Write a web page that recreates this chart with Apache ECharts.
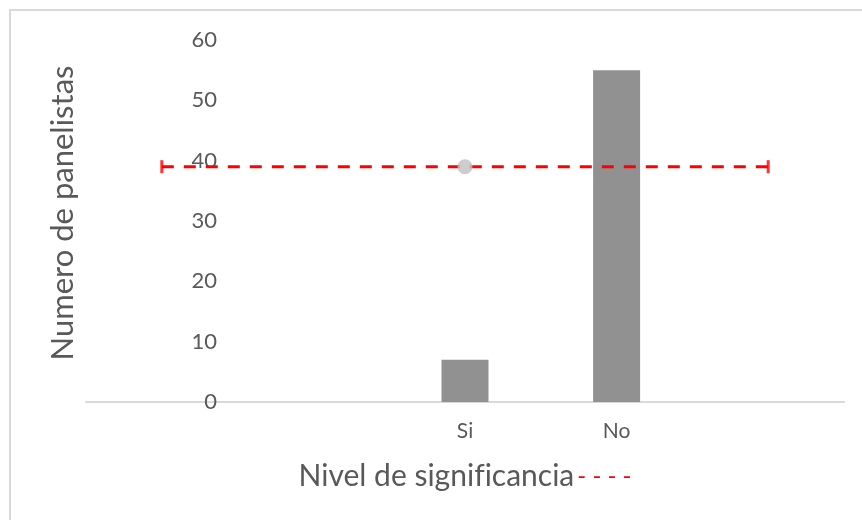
<!DOCTYPE html>
<html>
<head>
<meta charset="utf-8">
<script src="https://cdn.jsdelivr.net/npm/echarts@6/dist/echarts.min.js"></script>
<style>
  html, body { margin: 0; padding: 0; background: #ffffff; }
  #chart { width: 862px; height: 520px; }
</style>
</head>
<body>
<div id="chart"></div>
<script>
// Categorías del eje X (las vacías reservan espacio a ambos lados)
const categorias = ['', '', 'Si', 'No', ''];
// Número de panelistas por respuesta
const panelistas = [null, null, 7, 55, null];
// Nivel de significancia (umbral constante)
const nivelSignificancia = 39;
// Punto de referencia sobre la categoría "Si"
const puntoSi = [null, null, 39, null, null];
// Marcas de ticks del eje Y
const ticksY = [0, 10, 20, 30, 40, 50, 60];

const fuente = 'Lato, "Open Sans", sans-serif';
const grisTexto = '#595959';

const lineaUmbral = categorias.map(() => nivelSignificancia);
const extremos = [[0, nivelSignificancia], [categorias.length - 1, nivelSignificancia]];

const chart = echarts.init(document.getElementById('chart'), null, { renderer: 'canvas' });

chart.setOption({
  backgroundColor: '#ffffff',
  animation: false,
  textStyle: { fontFamily: fuente },
  graphic: [{
    type: 'rect',
    shape: { x: 10, y: 10, width: 900, height: 600 },
    style: { fill: 'none', stroke: '#d9d9d9', lineWidth: 2 },
    silent: true
  }],
  grid: { left: 86, right: 18, top: 40, bottom: 118, containLabel: false },
  xAxis: {
    type: 'category',
    data: categorias,
    axisLine: { show: true, lineStyle: { color: '#d9d9d9', width: 2 } },
    axisTick: { show: false },
    axisLabel: { color: grisTexto, fontSize: 21, fontFamily: fuente, margin: 19 },
    // ZWNJ between f and i avoids the "fi" ligature
    name: '{a|Nivel de signif\u200Cicancia} {b|- - - -}',
    nameLocation: 'middle',
    nameGap: 59,
    nameTextStyle: {
      rich: {
        a: { color: grisTexto, fontSize: 30, fontFamily: fuente },
        b: { color: '#ff0000', fontSize: 24, fontFamily: fuente }
      }
    }
  },
  yAxis: {
    type: 'value',
    min: ticksY[0],
    max: ticksY[ticksY.length - 1],
    interval: ticksY[1] - ticksY[0],
    axisLine: { show: false },
    axisTick: { show: false },
    splitLine: { show: false },
    axisLabel: { color: grisTexto, fontSize: 22, fontFamily: fuente, margin: -131 },
    name: 'Numero de panelistas',
    nameLocation: 'middle',
    nameGap: 6,
    nameRotate: 90,
    nameTextStyle: { color: grisTexto, fontSize: 31, fontFamily: fuente, padding: [0, 0, 0, 16] }
  },
  series: [
    {
      name: 'Panelistas',
      type: 'bar',
      data: panelistas,
      barWidth: 47,
      itemStyle: { color: '#919191' },
      z: 2
    },
    {
      name: 'Nivel de significancia',
      type: 'line',
      data: lineaUmbral,
      showSymbol: false,
      symbol: 'none',
      lineStyle: { color: '#ff0000', width: 3, type: [12, 10] },
      z: 3
    },
    {
      name: 'Extremos',
      type: 'scatter',
      data: extremos,
      symbol: 'rect',
      symbolSize: [3, 13],
      itemStyle: { color: '#ff0000' },
      z: 4
    },
    {
      name: 'Punto Si',
      type: 'scatter',
      data: puntoSi,
      symbol: 'circle',
      symbolSize: 15,
      itemStyle: { color: '#c0c0c0' },
      z: 5
    }
  ]
});
</script>
</body>
</html>
